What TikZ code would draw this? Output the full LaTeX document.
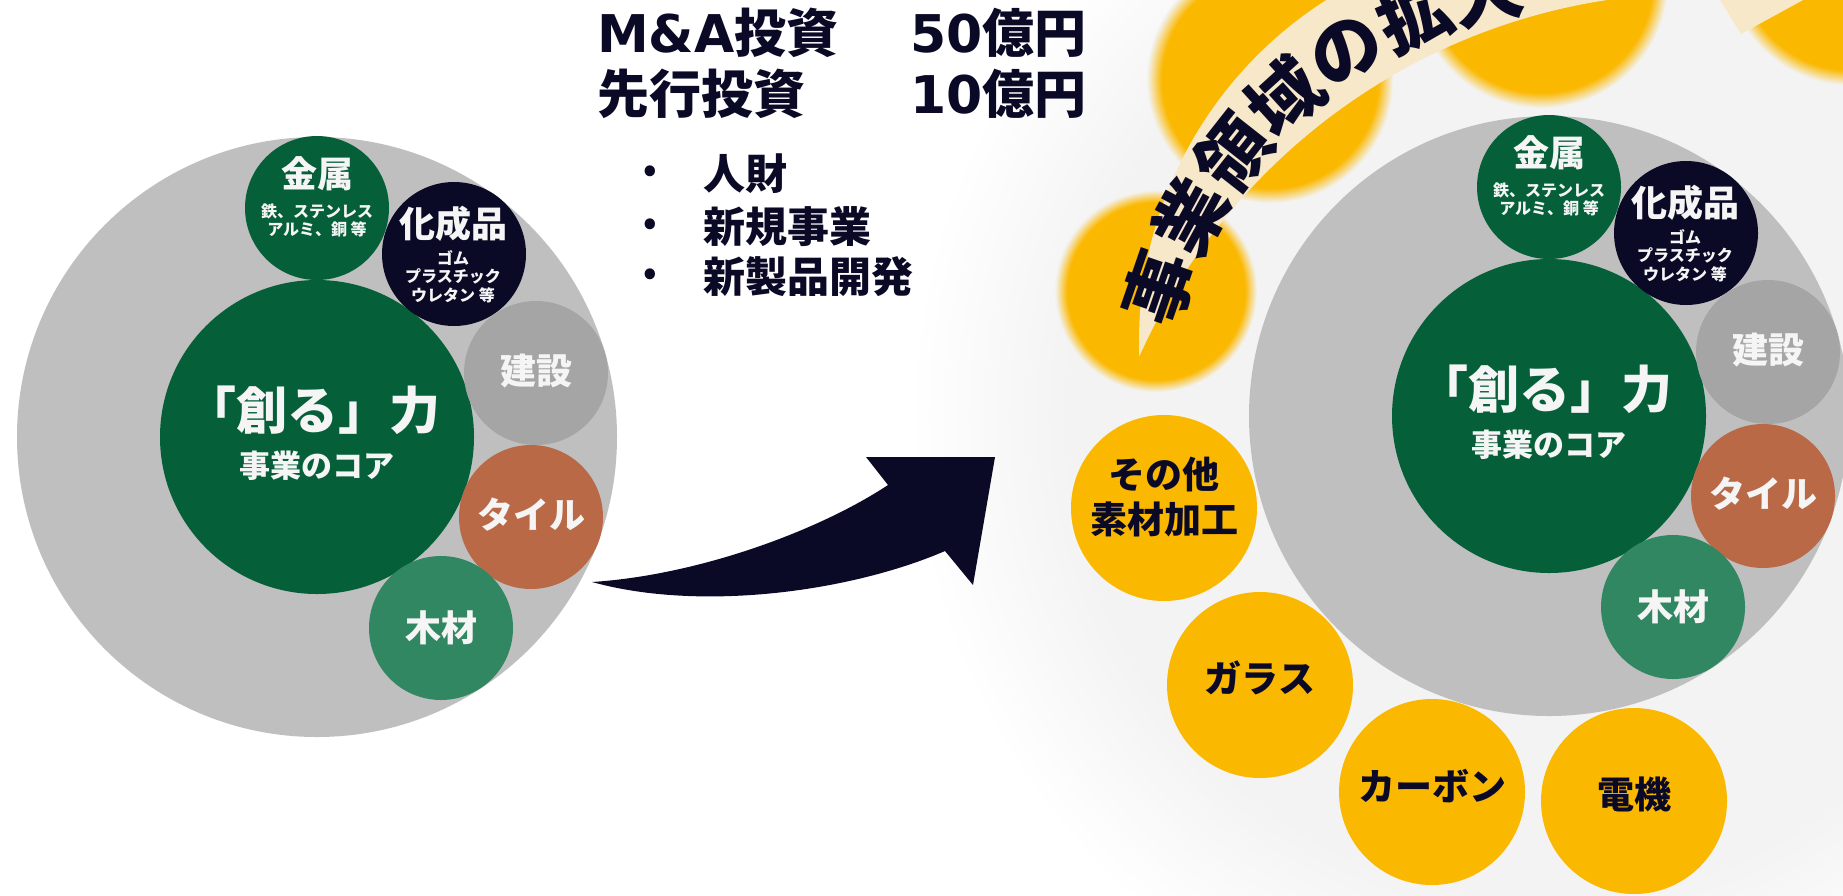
\documentclass[tikz,border=0pt]{standalone}
\usepackage{fontspec}
\setmainfont{Noto Sans CJK JP}
\newfontfamily\lat{DejaVu Sans}
\usetikzlibrary{calc}
\definecolor{cgray}{HTML}{BFBFBF}
\definecolor{cgreen}{HTML}{05603A}
\definecolor{cnavy}{HTML}{0B0A26}
\definecolor{ckens}{HTML}{A5A5A5}
\definecolor{ctile}{HTML}{BA6947}
\definecolor{cwood}{HTML}{328763}
\definecolor{cyel}{HTML}{FBB800}
\definecolor{ccream}{HTML}{F7E8C9}
\definecolor{cglow}{HTML}{F3F3F3}
\definecolor{ctxtw}{HTML}{F5F5F5}
\pgfdeclareradialshading{glowshade}{\pgfpoint{0bp}{0bp}}{color(0bp)=(cglow); color(18.75bp)=(cglow); color(25bp)=(white); color(50bp)=(white)}
\pgfdeclareradialshading{blobshade}{\pgfpoint{0bp}{0bp}}{color(0bp)=(cyel); color(22bp)=(cyel); color(25bp)=(cglow); color(50bp)=(cglow)}
\tikzset{
  disc/.style={circle, inner sep=0pt, outer sep=0pt},
  subdisc/.style={disc, minimum size=144pt},
  yeldisc/.style={disc, fill=cyel, minimum size=186pt},
  wlab/.style={text=ctxtw, align=center, inner sep=0pt},
  nlab/.style={text=cnavy, align=center, inner sep=0pt},
  fA/.style={font=\bfseries\fontsize{36}{40}\selectfont},
  fY/.style={font=\bfseries\fontsize{37}{45}\selectfont},
  fT/.style={font=\bfseries\fontsize{52}{60}\selectfont},
  fL/.style={font=\bfseries\fontsize{42}{50}\selectfont},
  fB/.style={font=\bfseries\fontsize{72}{76}\selectfont},
}
\newcommand\drawcluster[1]{%
  \node[disc, fill=cgray, minimum size=600pt] (#1big) at (0,0) {};
  \node[disc, fill=cgreen, minimum size=314pt] (#1core) at (0,0) {};
  \node[subdisc, fill=cgreen] (#1metal) at (0,-229) {};
  \node[subdisc, fill=cnavy] (#1kasei) at (137,-183) {};
  \node[subdisc, fill=ckens] (#1kens) at (219,-64) {};
  \node[subdisc, fill=ctile] (#1tile) at (214,80) {};
  \node[subdisc, fill=cwood] (#1wood) at (124,191) {};
  \node[wlab, font=\bfseries\fontsize{51}{54}\selectfont] (#1coreA) at (-4,-27) {「創る」力};
  \node[wlab, font=\bfseries\fontsize{31}{34}\selectfont] (#1coreB) at (0,29) {事業のコア};
  \node[wlab, fA] (#1metalA) at (0,-263) {金属};
  \node[wlab, font=\bfseries\fontsize{16}{17.5}\selectfont] (#1metalB) at (0,-216.5) {鉄、ステンレス\\アルミ、銅 等};
  \node[wlab, fA] (#1kaseiA) at (136,-213) {化成品};
  \node[wlab, font=\bfseries\fontsize{16}{18.5}\selectfont] (#1kaseiB) at (136,-160.5) {ゴム\\プラスチック\\ウレタン 等};
  \node[wlab, fA] (#1kensA) at (219,-66) {建設};
  \node[wlab, fA] (#1tileA) at (214,78) {タイル};
  \node[wlab, fA] (#1woodA) at (124,191) {木材};
}
\begin{document}
\begin{tikzpicture}[x=1pt, y=-1pt]
\useasboundingbox (0,0) rectangle (1843,895);
\clip (0,0) rectangle (1843,895);
\fill[white] (0,0) rectangle (1843,895);
% soft grey glow behind the right cluster
\shade[shading=glowshade] (1549,416) circle[radius=640pt];
% blurred yellow circles at the top
\shade[shading=blobshade] (1156,291) circle[radius=101pt];
\shade[shading=blobshade] (1270,80) circle[radius=123pt];
\shade[shading=blobshade] (1541,-19) circle[radius=127pt];
\shade[shading=blobshade] (1850,-40) circle[radius=125pt];
% curved band
\begin{scope}
  \clip (0,0) rectangle (1700,895);
  \clip (1543,341) circle[radius=404pt];
  \fill[ccream, even odd rule] (1543,341) circle[radius=420pt] (1700,607) circle[radius=614pt];
\end{scope}
\fill[ccream] (1720,0) -- (1741,34) -- (1803,0) -- cycle;
\foreach \ch [count=\i from 0] in {事,業,領,域,の,拡,大} {
  \pgfmathsetmacro\ang{161-9.6*\i}
  \node[nlab, fB, rotate=\ang-90] (band\i) at ({1592+457*cos(\ang)},{436-457*sin(\ang)}) {\ch};
}
% right cluster
\begin{scope}[shift={(1549,416)}]
  \drawcluster{R}
\end{scope}
% new business circles
\node[yeldisc] (yOther) at (1164,508) {};
\node[yeldisc] (yGlass) at (1260,685) {};
\node[yeldisc] (yCarbon) at (1432,792) {};
\node[yeldisc] (yElec) at (1634,801) {};
\node[nlab, fY] (yOtherT) at (1164,497.5) {その他\\素材加工};
\node[nlab, fY] (yGlassT) at (1260,678) {ガラス};
\node[nlab, fY] (yCarbonT) at (1432,786) {カーボン};
\node[nlab, fY] (yElecT) at (1634,794) {電機};
% left cluster
\begin{scope}[shift={(317,437)}]
  \drawcluster{L}
\end{scope}
% arrow
\coordinate (aT) at (592,582);
\coordinate (aN1) at (888,485);
\coordinate (aB1) at (866,457);
\coordinate (aP) at (995,457);
\coordinate (aB2) at (973,585);
\coordinate (aN2) at (945,551);
\fill[cnavy] (aT) .. controls (700,575) and (820,530) .. (aN1) -- (aB1) -- (aP) -- (aB2) -- (aN2) .. controls (850,592) and (700,612) .. (aT) -- cycle;
% investment text
\node[nlab, fT, anchor=west] (t1a) at (597,33) {{\lat M\&A}投資};
\node[nlab, fT, anchor=west] (t1b) at (910,33) {{\lat 50}億円};
\node[nlab, fT, anchor=west] (t2a) at (597,94) {先行投資};
\node[nlab, fT, anchor=west] (t2b) at (910,94) {{\lat 10}億円};
\node[nlab, font=\bfseries\fontsize{34}{40}\selectfont] (d1) at (650,174) {•};
\node[nlab, font=\bfseries\fontsize{34}{40}\selectfont] (d2) at (650,227) {•};
\node[nlab, font=\bfseries\fontsize{34}{40}\selectfont] (d3) at (650,277) {•};
\node[nlab, fL, anchor=west] (l1) at (703,174) {人財};
\node[nlab, fL, anchor=west] (l2) at (703,227) {新規事業};
\node[nlab, fL, anchor=west] (l3) at (703,277) {新製品開発};
\end{tikzpicture}
\end{document}
